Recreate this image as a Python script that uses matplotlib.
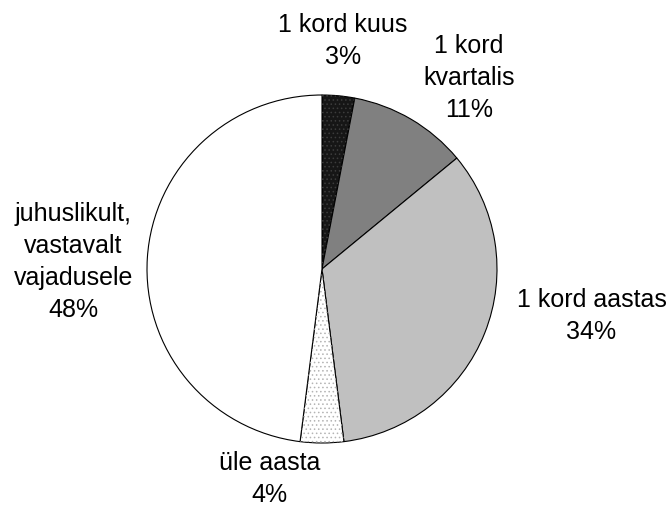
import matplotlib
matplotlib.use("Agg")
import matplotlib.pyplot as plt
from matplotlib.patches import Wedge

plt.rcParams['font.family'] = ['Liberation Sans', 'DejaVu Sans']
plt.rcParams['hatch.linewidth'] = 0.6

# data
labels = ['1 kord kuus', '1 kord\nkvartalis', '1 kord aastas', 'üle aasta',
          'juhuslikult,\nvastavalt\nvajadusele']
values = [3, 11, 34, 4, 48]
colors = ['#161616', '#808080', '#c0c0c0', '#ffffff', '#ffffff']

fig = plt.figure(figsize=(6.71, 5.08), dpi=100)
ax = fig.add_axes([147 / 671, 65 / 508, 350 / 671, 348 / 508])

wedges, _ = ax.pie(values, colors=colors, startangle=90, counterclock=False,
                   wedgeprops=dict(edgecolor='black', linewidth=0.8))

# fine dotted fill for the small slices
for i, col in [(0, '#3c3c3c'), (3, '#b4b4b4')]:
    w = wedges[i]
    ax.add_patch(Wedge(w.center, w.r, w.theta1, w.theta2, fill=False,
                       hatch='....', edgecolor=col, linewidth=0))

ax.set_xlim(-1, 1)
ax.set_ylim(-1, 1)
ax.set_aspect('auto')
ax.axis('off')

# label positions (data units)
label_pos = [(0.121, 1.310), (0.839, 1.098), (1.540, -0.270),
             (-0.299, -1.207), (-1.420, 0.040)]
for lab, v, (x, y) in zip(labels, values, label_pos):
    ax.text(x, y, f'{lab}\n{v}%', ha='center', va='center', fontsize=18,
            linespacing=1.42, clip_on=False)

fig.savefig('out.png', dpi=100)
